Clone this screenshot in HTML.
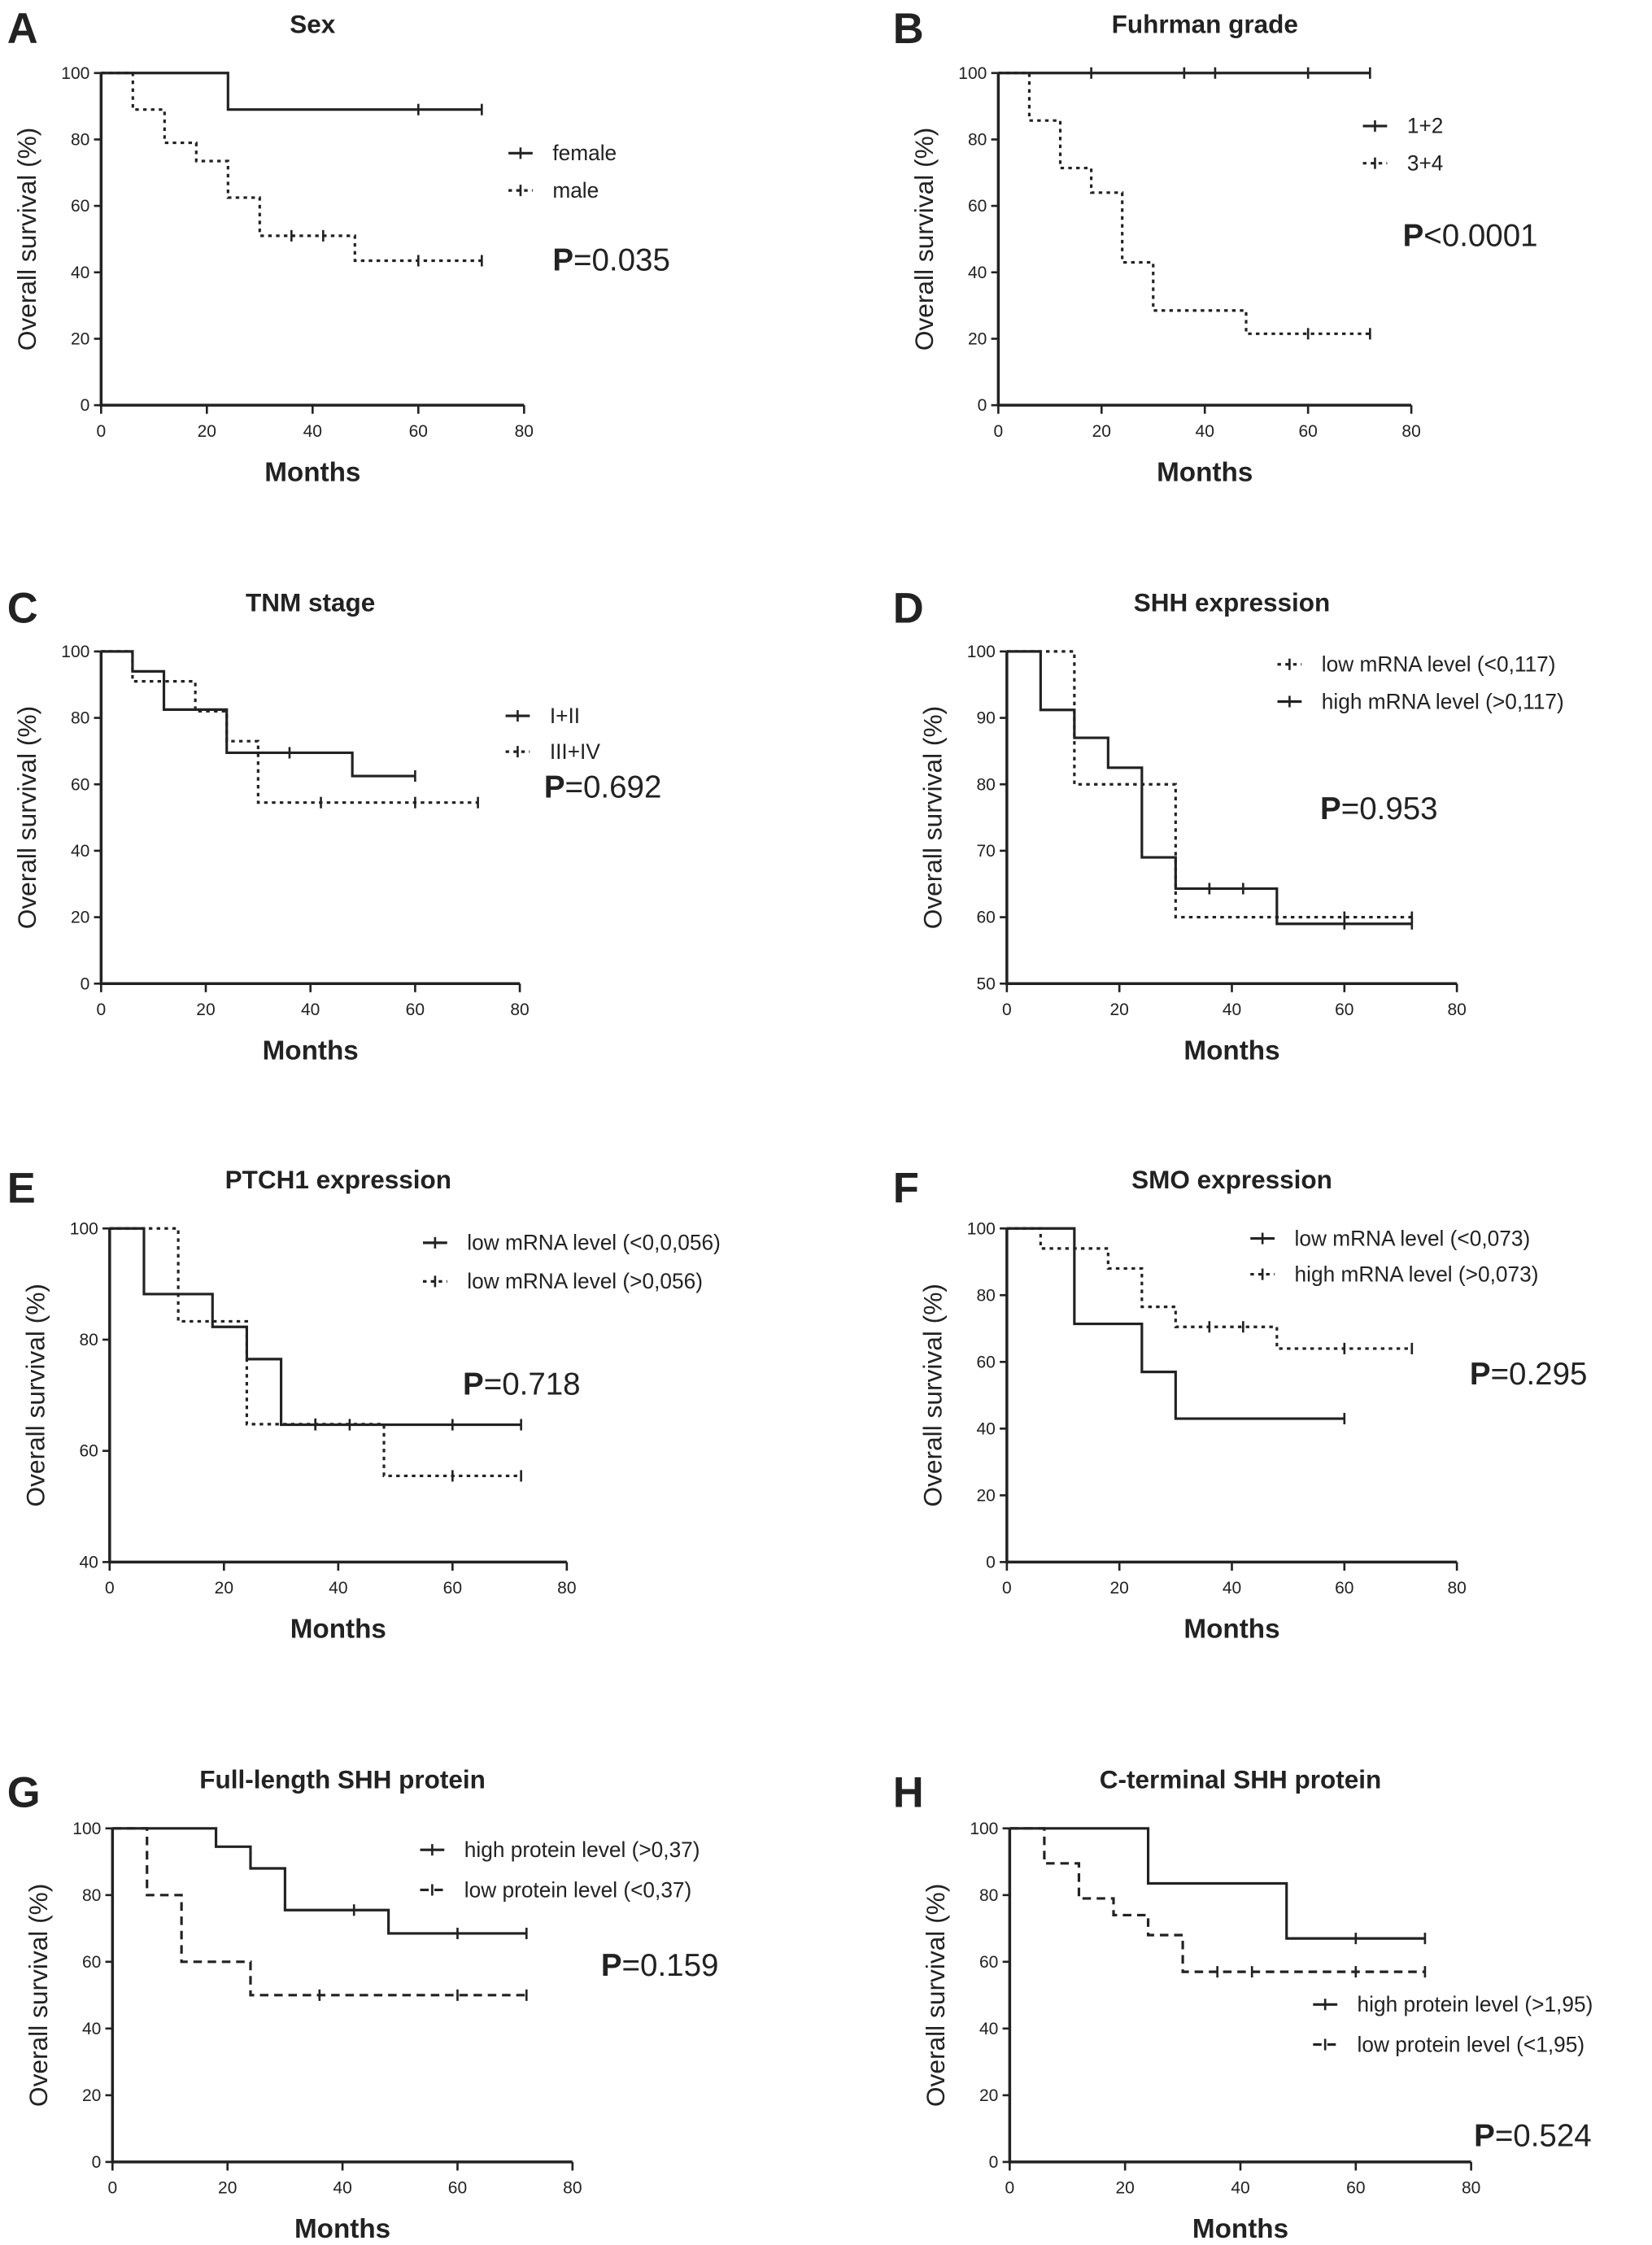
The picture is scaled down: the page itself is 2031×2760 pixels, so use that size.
<!DOCTYPE html>
<html><head><meta charset="utf-8"><style>
html,body{margin:0;padding:0;background:#fff}
svg{display:block}
text{font-family:"Liberation Sans",sans-serif;fill:#222}
</style></head><body>
<svg id="fig" width="2031" height="2760" viewBox="0 0 1160 1568" preserveAspectRatio="none" xmlns="http://www.w3.org/2000/svg"></svg>
<script>
// ---- data ----
const xTicks=[0,20,40,60,80];
const yTicksStd=[0,20,40,60,80,100];
const yTicksD=[50,60,70,80,90,100];
const yTicksE=[40,60,80,100];
// series steps: [time, survival]
const aFemale=[[0,100],[24,89],[72,89]];
const aFemaleCens=[60,72];
const aMale=[[0,100],[6,89],[12,79],[18,73.5],[24,62.5],[30,51],[48,43.5],[72,43.5]];
const aMaleCens=[36,42,60,72];
const b12=[[0,100],[72,100]];
const b12Cens=[18,36,42,60,72];
const b34=[[0,100],[6,85.7],[12,71.4],[18,64],[24,43],[30,28.5],[48,21.5],[72,21.5]];
const b34Cens=[60,72];
const cI=[[0,100],[6,94],[12,82.5],[24,69.5],[48,62.5],[60,62.5]];
const cICens=[36,60];
const cIII=[[0,100],[6,91],[18,82],[24,73],[30,54.5],[72,54.5]];
const cIIICens=[42,60,72];
const dLow=[[0,100],[12,80],[30,60],[72,60]];
const dLowCens=[60,72];
const dHigh=[[0,100],[6,91.2],[12,87],[18,82.5],[24,69],[30,64.3],[48,59],[72,59]];
const dHighCens=[36,42,60,72];
const eSolid=[[0,100],[6,88.2],[18,82.3],[24,76.5],[30,64.7],[72,64.7]];
const eSolidCens=[36,42,60,72];
const eDot=[[0,100],[12,83.3],[24,64.8],[48,55.5],[72,55.5]];
const eDotCens=[36,60,72];
const fSolid=[[0,100],[12,71.4],[24,57],[30,43],[60,43]];
const fSolidCens=[60];
const fDot=[[0,100],[6,94],[18,88],[24,76.5],[30,70.5],[48,64],[72,64]];
const fDotCens=[36,42,60,72];
const gSolid=[[0,100],[18,94.5],[24,88],[30,75.5],[48,68.5],[72,68.5]];
const gSolidCens=[42,60,72];
const gDash=[[0,100],[6,80],[12,60],[24,50],[72,50]];
const gDashCens=[36,60,72];
const hSolid=[[0,100],[24,83.5],[48,67],[72,67]];
const hSolidCens=[60,72];
const hDash=[[0,100],[6,89.5],[12,79],[18,74],[24,68],[30,57],[72,57]];
const hDashCens=[36,42,60,72];

const NS="http://www.w3.org/2000/svg";
const svg=document.getElementById('fig');
function mk(tag,attrs,parent){const e=document.createElementNS(NS,tag);for(const k in attrs)e.setAttribute(k,attrs[k]);(parent||svg).appendChild(e);return e;}
const DASH={solid:null,dot:"2.5,3",dash:"6,4"};

const panels=[
 {id:'a',letter:'A',lx:5,ly:30,title:'Sex',x0:71,x1:368,y0:283,y1:51,ymin:0,ymax:100,yt:yTicksStd,
  series:[{d:aFemale,c:aFemaleCens,s:'solid',lab:'female',ly:107},{d:aMale,c:aMaleCens,s:'dot',lab:'male',ly:133}],legX:357,p:'0.035',pop:'=',px:388,py:189},
 {id:'b',letter:'B',lx:627,ly:30,title:'Fuhrman grade',x0:701,x1:991,y0:283,y1:51,ymin:0,ymax:100,yt:yTicksStd,
  series:[{d:b12,c:b12Cens,s:'solid',lab:'1+2',ly:88},{d:b34,c:b34Cens,s:'dot',lab:'3+4',ly:114}],legX:957,p:'0.0001',pop:'<',px:985,py:172},
 {id:'c',letter:'C',lx:5,ly:435,title:'TNM stage',x0:71,x1:365,y0:687,y1:455,ymin:0,ymax:100,yt:yTicksStd,
  series:[{d:cI,c:cICens,s:'solid',lab:'I+II',ly:500},{d:cIII,c:cIIICens,s:'dot',lab:'III+IV',ly:525}],legX:355,p:'0.692',pop:'=',px:382,py:557},
 {id:'d',letter:'D',lx:627,ly:435,title:'SHH expression',x0:707,x1:1023,y0:687,y1:455,ymin:50,ymax:100,yt:yTicksD,
  series:[{d:dLow,c:dLowCens,s:'dot',lab:'low mRNA level (<0,117)',ly:464},{d:dHigh,c:dHighCens,s:'solid',lab:'high mRNA level (>0,117)',ly:490}],legX:897,p:'0.953',pop:'=',px:927,py:572},
 {id:'e',letter:'E',lx:5,ly:840,title:'PTCH1 expression',x0:77,x1:398,y0:1091,y1:858,ymin:40,ymax:100,yt:yTicksE,
  series:[{d:eSolid,c:eSolidCens,s:'solid',lab:'low mRNA level (<0,0,056)',ly:868},{d:eDot,c:eDotCens,s:'dot',lab:'low mRNA level (>0,056)',ly:895}],legX:297,p:'0.718',pop:'=',px:325,py:974},
 {id:'f',letter:'F',lx:627,ly:840,title:'SMO expression',x0:707,x1:1023,y0:1091,y1:858,ymin:0,ymax:100,yt:yTicksStd,
  series:[{d:fSolid,c:fSolidCens,s:'solid',lab:'low mRNA level (<0,073)',ly:865},{d:fDot,c:fDotCens,s:'dot',lab:'high mRNA level (>0,073)',ly:890}],legX:878,p:'0.295',pop:'=',px:1032,py:967},
 {id:'g',letter:'G',lx:5,ly:1262,title:'Full-length SHH protein',x0:79,x1:402,y0:1510,y1:1277,ymin:0,ymax:100,yt:yTicksStd,
  series:[{d:gSolid,c:gSolidCens,s:'solid',lab:'high protein level (>0,37)',ly:1292},{d:gDash,c:gDashCens,s:'dash',lab:'low protein level (<0,37)',ly:1320}],legX:295,p:'0.159',pop:'=',px:422,py:1380},
 {id:'h',letter:'H',lx:627,ly:1262,title:'C-terminal SHH protein',x0:709,x1:1033,y0:1510,y1:1277,ymin:0,ymax:100,yt:yTicksStd,
  series:[{d:hSolid,c:hSolidCens,s:'solid',lab:'high protein level (>1,95)',ly:1400},{d:hDash,c:hDashCens,s:'dash',lab:'low protein level (<1,95)',ly:1428}],legX:922,p:'0.524',pop:'=',px:1035,py:1499}
];

panels.forEach(P=>{
  const g=mk('g',{});
  
  
  const X=t=>P.x0+(t-0)/80*(P.x1-P.x0);
  const Y=v=>P.y0-(v-P.ymin)/(P.ymax-P.ymin)*(P.y0-P.y1);
  const L=mk('text',{x:P.lx,y:P.ly,'font-size':30,'font-weight':'bold'},g);L.textContent=P.letter;
  
  const cx=(P.x0+P.x1)/2;
  const T=mk('text',{x:cx,y:P.y1-28,'font-size':18,'font-weight':'bold','text-anchor':'middle'},g);T.textContent=P.title;
  
  const ax=mk('path',{d:`M${P.x0},${P.y1}V${P.y0}H${P.x1}`,stroke:'#222','stroke-width':2,fill:'none'},g);
  
  xTicks.forEach(t=>{
    mk('line',{x1:X(t),x2:X(t),y1:P.y0,y2:P.y0+6,stroke:'#222','stroke-width':1.5},g);
    const tx=mk('text',{x:X(t),y:P.y0+22,'font-size':12,'text-anchor':'middle'},g);tx.textContent=t;
    
  });
  P.yt.forEach(v=>{
    mk('line',{x1:P.x0-5,x2:P.x0,y1:Y(v),y2:Y(v),stroke:'#222','stroke-width':1.5},g);
    const ty=mk('text',{x:P.x0-8,y:Y(v)+4,'font-size':12,'text-anchor':'end'},g);ty.textContent=v;
    
  });
  const xl=mk('text',{x:cx,y:P.y0+53,'font-size':19,'font-weight':'bold','text-anchor':'middle'},g);xl.textContent='Months';
  
  const yc=(P.y0+P.y1)/2, yx=P.x0-46;
  const yl=mk('text',{x:yx,y:yc,'font-size':18,'text-anchor':'middle',transform:`rotate(-90 ${yx} ${yc})`},g);yl.textContent='Overall survival (%)';
  
  P.series.forEach((S,i)=>{
    let d=`M${X(S.d[0][0])},${Y(S.d[0][1])}`;
    for(let k=1;k<S.d.length;k++){d+=`H${X(S.d[k][0])}V${Y(S.d[k][1])}`;}
    const attrs={d:d,stroke:'#222','stroke-width':1.8,fill:'none'};
    if(DASH[S.s])attrs['stroke-dasharray']=DASH[S.s];
    const ln=mk('path',attrs,g);
    
    
    S.c.forEach(t=>{
      let v=S.d[0][1];S.d.forEach(p=>{if(p[0]<=t)v=p[1];});
      const cm=mk('line',{x1:X(t),x2:X(t),y1:Y(v)-4,y2:Y(v)+4,stroke:'#222','stroke-width':1.5},g);
      
    });
    const la={x1:P.legX,x2:P.legX+17,y1:S.ly,y2:S.ly,stroke:'#222','stroke-width':1.8};
    if(DASH[S.s])la['stroke-dasharray']=DASH[S.s];
    const le=mk('line',la,g);
    mk('line',{x1:P.legX+8.5,x2:P.legX+8.5,y1:S.ly-4,y2:S.ly+4,stroke:'#222','stroke-width':1.5},g);
    const lt=mk('text',{x:P.legX+31,y:S.ly+5,'font-size':15},g);lt.textContent=S.lab;
    
  });
  const pt=mk('text',{x:P.px,y:P.py,'font-size':22},g);
  pt.innerHTML='<tspan font-weight="bold">P</tspan>'+(P.pop=='<'?'&lt;':'=')+P.p;
  
});
</script>
</body></html>
